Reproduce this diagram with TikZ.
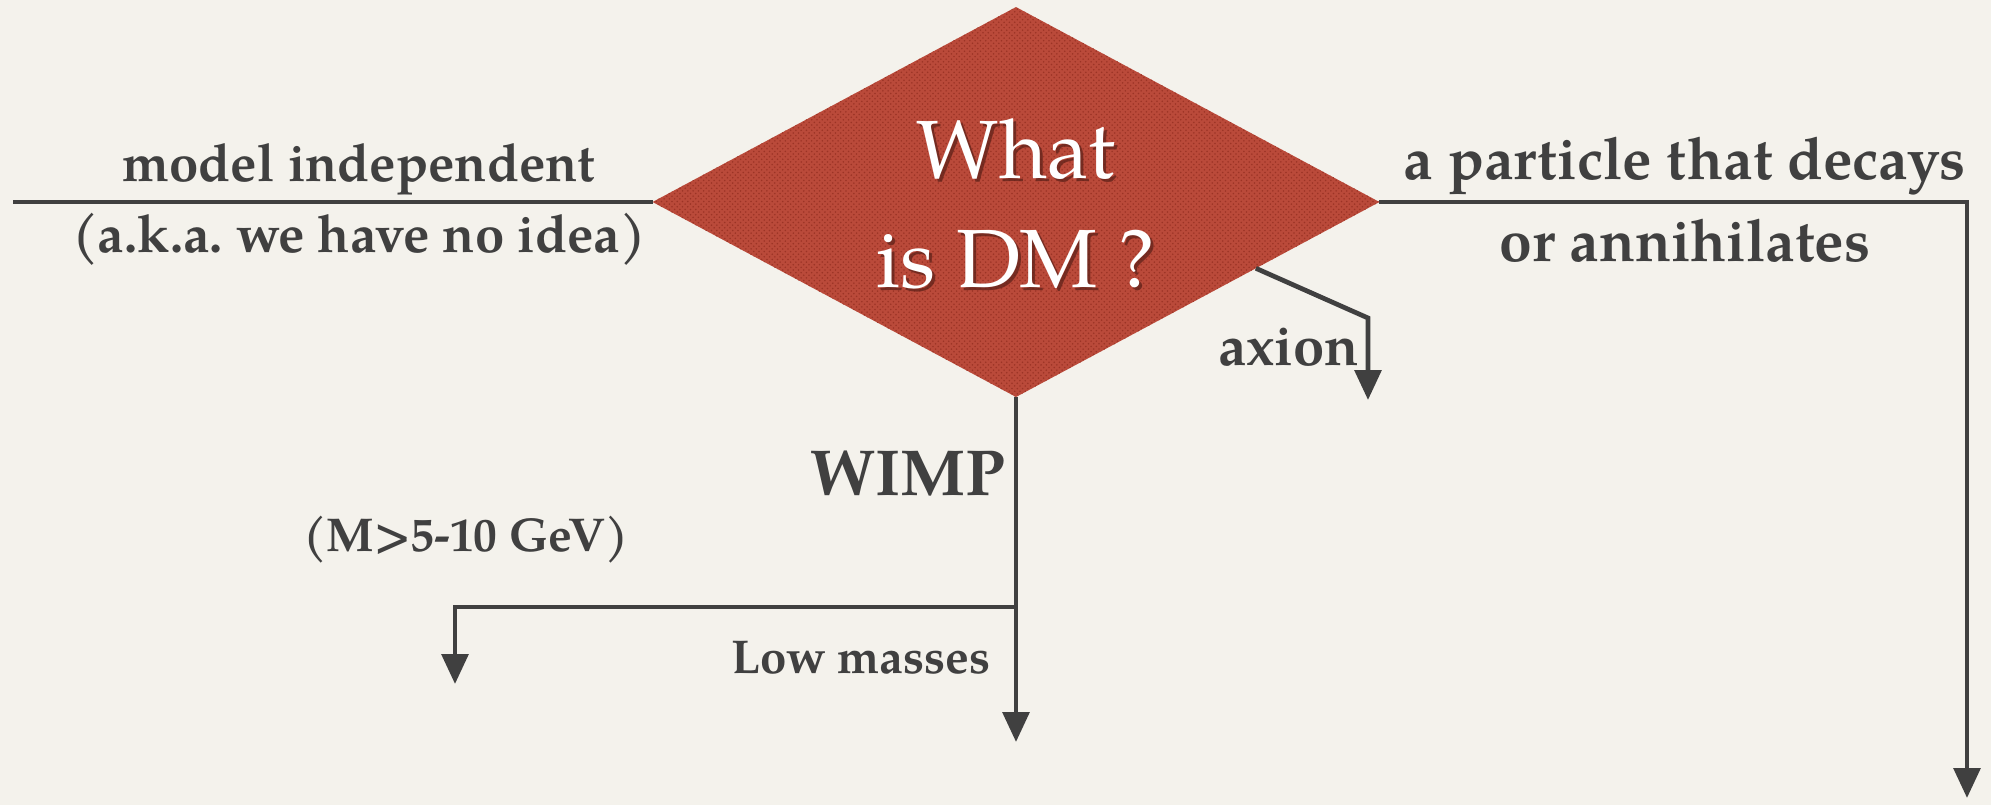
\documentclass[tikz,border=0pt]{standalone}
\usepackage{fontspec}
\setmainfont{TeX Gyre Pagella}
\usetikzlibrary{shapes.geometric, arrows.meta, positioning, calc, patterns}
\definecolor{paperBg}{HTML}{F4F2EC}
\definecolor{inkGray}{HTML}{404040}
\definecolor{dmRed}{HTML}{BA4A3A}
\definecolor{dmDots}{HTML}{9C3426}
\definecolor{dmShade}{HTML}{5A2018}
\frenchspacing

\begin{document}
\begin{tikzpicture}[x=0.02cm, y=-0.02cm,
    branch/.style={draw=inkGray, line width=2.7pt},
    barr/.style={branch, -{Triangle[length=17pt, width=15pt]}},
    lbl/.style={text=inkGray, font=\fontsize{30}{34}\selectfont\bfseries, inner sep=0pt},
    lblbig/.style={lbl, font=\fontsize{33.5}{38}\selectfont\bfseries},
    small/.style={lbl, font=\fontsize{27}{31}\selectfont\bfseries},
    question/.style={diamond, fill=dmRed, minimum width=14.54cm, minimum height=7.8cm,
      inner sep=0pt, outer sep=0pt,
      postaction={pattern=crosshatch dots, pattern color=dmDots}},
    qtext/.style={align=center, font=\fontsize{47}{62}\selectfont}
  ]
  \fill[paperBg] (0,0) rectangle (1991,805);
  \useasboundingbox (0,0) rectangle (1991,805);

  \node[question] (dm) at (1016,202) {};
  \node[qtext, text=dmShade, opacity=0.7] (dmshadow) at (1019,207) {What\\is DM ?};
  \node[qtext, text=white] (dmtext) at (1016,204) {What\\is DM ?};

  % left branch
  \coordinate (leftend) at (13,202);
  \draw[branch] (dm.west) -- (leftend);
  \node[lbl] (modind) at (359,169) {model independent};
  \node[lbl] (aka) at (359,239) {(a.k.a. we have no idea)};

  % right branch
  \coordinate (rightcorner) at (1967,202);
  \coordinate (rightend) at (1967,798);
  \draw[barr] (dm.east) -- (rightcorner) -- (rightend);
  \node[lblbig] (decay) at (1685,166) {a particle that decays};
  \node[lblbig] (annih) at (1685,241) {or annihilates};

  % axion branch
  \coordinate (axstart) at ($(dm.east)!0.34!(dm.south)$);
  \coordinate (axcorner) at (1368,318);
  \coordinate (axend) at (1368,400);
  \draw[barr] (axstart) -- (axcorner) -- (axend);
  \node[lbl, font=\fontsize{32}{36}\selectfont\bfseries] (axion) at (1289,347) {axion};

  % WIMP branch
  \coordinate (wimpend) at (1016,742);
  \draw[barr] (dm.south) -- (wimpend);
  \node[lbl, font=\fontsize{37}{42}\selectfont\bfseries] (wimp) at (908,474) {WIMP};
  \node[small] (mass) at (466,540) {(M>5-10 GeV)};

  % low masses
  \coordinate (lowfork) at (1016,607);
  \coordinate (lowcorner) at (455,607);
  \coordinate (lowend) at (455,684);
  \draw[barr] (lowfork) -- (lowcorner) -- (lowend);
  \node[small] (low) at (861,658) {Low masses};
\end{tikzpicture}
\end{document}
